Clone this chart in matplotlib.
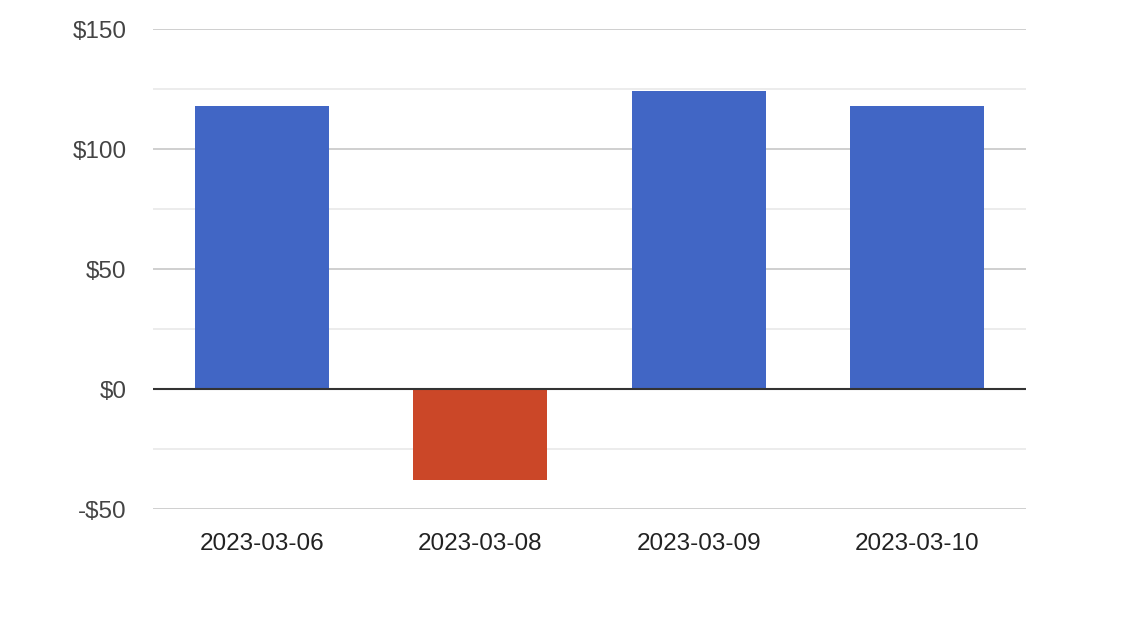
#!/usr/bin/env python3
"""Daily profit/loss bar chart (Google Charts look)."""

import matplotlib.pyplot as plt
from matplotlib.ticker import FuncFormatter, MultipleLocator

DATES = ["2023-03-06", "2023-03-08", "2023-03-09", "2023-03-10"]
VALUES = [118, -38, 124, 118]

POS_COLOR = "#4166C5"
NEG_COLOR = "#CB4728"


def main() -> None:
    plt.rcParams["font.family"] = ["Liberation Sans", "DejaVu Sans"]

    fig = plt.figure(figsize=(11.26, 6.24), dpi=100)
    ax = fig.add_axes([153 / 1126, 1 - 509 / 624, 873 / 1126, 480 / 624])

    x = range(len(DATES))
    colors = [POS_COLOR if v >= 0 else NEG_COLOR for v in VALUES]
    ax.bar(x, VALUES, width=0.615, color=colors, zorder=3)

    ax.set_xlim(-0.5, len(DATES) - 0.5)
    ax.set_ylim(-50, 150)
    ax.yaxis.set_major_locator(MultipleLocator(50))
    ax.yaxis.set_minor_locator(MultipleLocator(25))
    ax.yaxis.set_major_formatter(
        FuncFormatter(lambda v, _: f"-${abs(v):.0f}" if v < 0 else f"${v:.0f}")
    )
    ax.grid(axis="y", which="major", color="#cccccc", linewidth=1.3, zorder=0)
    ax.grid(axis="y", which="minor", color="#ebebeb", linewidth=1.3, zorder=0)
    ax.axhline(0, color="#333333", linewidth=1.5, zorder=4)

    ax.set_xticks(list(x))
    ax.set_xticklabels(DATES)
    ax.tick_params(axis="x", length=0, pad=17, labelsize=17.5, labelcolor="#222222")
    ax.tick_params(axis="y", which="both", length=0, pad=19, labelsize=17.5,
                   labelcolor="#444444")

    for spine in ax.spines.values():
        spine.set_visible(False)

    fig.savefig("out.png", dpi=100, facecolor="white")
    plt.close(fig)


if __name__ == "__main__":
    main()
